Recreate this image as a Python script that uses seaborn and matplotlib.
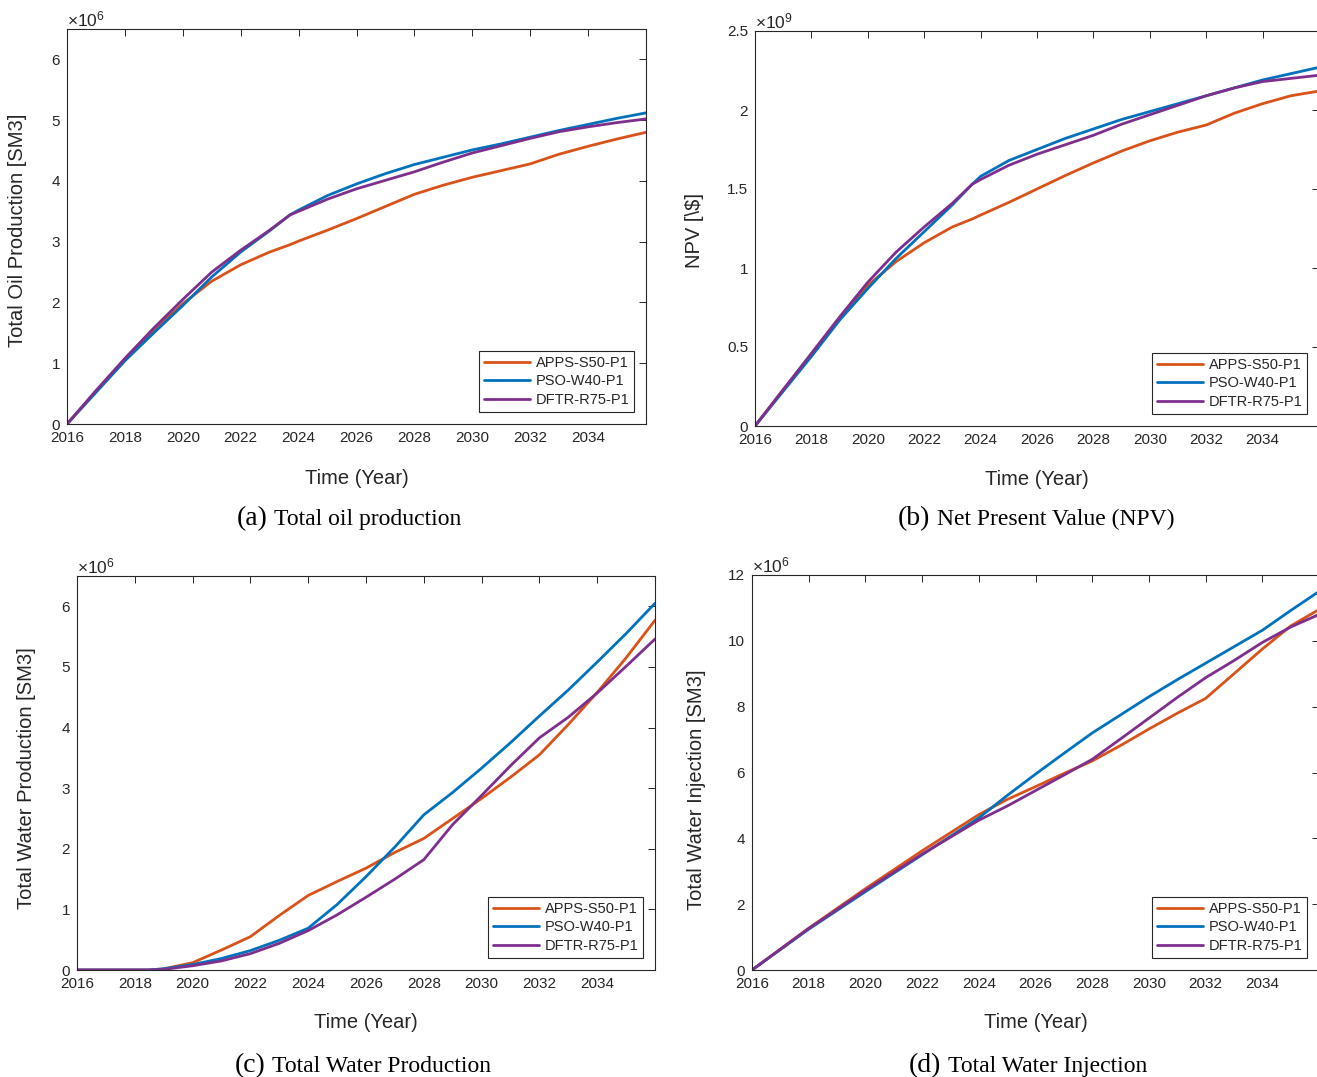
import numpy as np
import pandas as pd
import matplotlib
matplotlib.use("Agg")
import matplotlib.pyplot as plt
import seaborn as sns

# ---------------- data (values in displayed units, see multiplier) ----------------
methods = ["APPS-S50-P1", "PSO-W40-P1", "DFTR-R75-P1"]
colors = ["#D95319", "#0072BD", "#7E2F8E"]

# (a) Total oil production [x1e6 SM3]
years_a = [2016, 2017, 2018, 2019, 2020, 2021, 2022, 2023, 2023.7, 2024, 2025, 2026,
           2027, 2028, 2029, 2030, 2031, 2032, 2033, 2034, 2035, 2036]
oil_apps = [0, 0.53, 1.05, 1.55, 1.98, 2.35, 2.62, 2.83, 2.95, 3.01, 3.19, 3.38,
            3.58, 3.78, 3.93, 4.06, 4.17, 4.28, 4.44, 4.57, 4.69, 4.80]
oil_pso = [0, 0.52, 1.04, 1.50, 1.95, 2.42, 2.83, 3.18, 3.44, 3.52, 3.76, 3.95,
           4.12, 4.27, 4.39, 4.51, 4.61, 4.72, 4.83, 4.93, 5.03, 5.12]
oil_dftr = [0, 0.55, 1.08, 1.58, 2.05, 2.50, 2.86, 3.19, 3.44, 3.50, 3.70, 3.87,
            4.01, 4.15, 4.31, 4.46, 4.58, 4.70, 4.81, 4.89, 4.96, 5.02]

# (b) NPV [x1e9 $]
years_b = years_a
npv_apps = [0, 0.23, 0.45, 0.68, 0.89, 1.04, 1.16, 1.26, 1.31, 1.335, 1.415, 1.50,
            1.585, 1.665, 1.74, 1.805, 1.86, 1.905, 1.98, 2.04, 2.09, 2.12]
npv_pso = [0, 0.22, 0.44, 0.67, 0.87, 1.06, 1.23, 1.40, 1.53, 1.58, 1.68, 1.75,
           1.82, 1.88, 1.94, 1.99, 2.04, 2.09, 2.14, 2.19, 2.23, 2.27]
npv_dftr = [0, 0.23, 0.46, 0.69, 0.91, 1.10, 1.26, 1.41, 1.53, 1.56, 1.65, 1.72,
            1.78, 1.84, 1.91, 1.97, 2.03, 2.09, 2.14, 2.18, 2.20, 2.22]

# (c) Total water production [x1e6 SM3]
years_c = [2016, 2017, 2018, 2018.5, 2019, 2020, 2021, 2022, 2023, 2024, 2025, 2026,
           2027, 2028, 2029, 2030, 2031, 2032, 2033, 2034, 2035, 2036]
wp_apps = [0, 0, 0, 0.0, 0.02, 0.12, 0.33, 0.55, 0.90, 1.23, 1.46, 1.68,
           1.94, 2.17, 2.50, 2.83, 3.18, 3.55, 4.05, 4.58, 5.15, 5.77]
wp_pso = [0, 0, 0, 0, 0.02, 0.09, 0.19, 0.32, 0.49, 0.69, 1.08, 1.54,
          2.03, 2.56, 2.93, 3.33, 3.75, 4.19, 4.62, 5.08, 5.55, 6.05]
wp_dftr = [0, 0, 0, 0, 0.01, 0.07, 0.15, 0.27, 0.44, 0.65, 0.91, 1.20,
           1.50, 1.82, 2.40, 2.88, 3.37, 3.83, 4.17, 4.57, 5.01, 5.46]

# (d) Total water injection [x1e6 SM3]
years_d = [2016, 2018, 2020, 2022, 2024, 2025, 2026, 2027, 2028, 2029, 2030,
           2031, 2032, 2033, 2034, 2035, 2036]
wi_apps = [0, 1.27, 2.47, 3.62, 4.72, 5.18, 5.57, 5.97, 6.35, 6.82, 7.32,
           7.80, 8.25, 9.00, 9.75, 10.45, 10.95]
wi_pso = [0, 1.24, 2.38, 3.50, 4.62, 5.30, 5.95, 6.58, 7.20, 7.75, 8.30,
          8.82, 9.32, 9.82, 10.32, 10.92, 11.50]
wi_dftr = [0, 1.26, 2.42, 3.52, 4.55, 4.98, 5.45, 5.92, 6.40, 7.02, 7.65,
           8.28, 8.88, 9.40, 9.95, 10.42, 10.80]

xticks = list(range(2016, 2035, 2))

# ---------------- style ----------------
sns.set_theme(style="white")
plt.rcParams["font.family"] = ["Liberation Sans", "DejaVu Sans"]
plt.rcParams["mathtext.fontset"] = "custom"
plt.rcParams["mathtext.rm"] = "Liberation Sans"
plt.rcParams["mathtext.it"] = "Liberation Sans:italic"
AX_COLOR = "#262626"

W, H = 1317, 1077
fig = plt.figure(figsize=(W / 100, H / 100), dpi=100)
fig.patch.set_facecolor("white")


def px_rect(left, right, top, bottom):
    return [left / W, 1 - bottom / H, (right - left) / W, (bottom - top) / H]


panels = [
    dict(rect=px_rect(67, 646, 29, 424), t=years_a, vals=[oil_apps, oil_pso, oil_dftr],
         ylim=(0, 6.5), yticks=[0, 1, 2, 3, 4, 5, 6], mult=r"$\times10^{6}$",
         ylabel="Total Oil Production [SM3]", ylab_xy=(18, 230), xlab_y=478,
         tag="(a)", cap="Total oil production", cap_xy=(349, 525)),
    dict(rect=px_rect(755, 1319, 31, 426), t=years_b, vals=[npv_apps, npv_pso, npv_dftr],
         ylim=(0, 2.5), yticks=[0, 0.5, 1, 1.5, 2, 2.5], mult=r"$\times10^{9}$",
         ylabel="NPV [\\$]", ylab_xy=(695, 231), xlab_y=480,
         tag="(b)", cap="Net Present Value (NPV)", cap_xy=(1036, 525)),
    dict(rect=px_rect(77, 655, 576, 970), t=years_c, vals=[wp_apps, wp_pso, wp_dftr],
         ylim=(0, 6.5), yticks=[0, 1, 2, 3, 4, 5, 6], mult=r"$\times10^{6}$",
         ylabel="Total Water Production [SM3]", ylab_xy=(27, 778), xlab_y=1023,
         tag="(c)", cap="Total Water Production", cap_xy=(363, 1072)),
    dict(rect=px_rect(752, 1319, 575, 970), t=years_d, vals=[wi_apps, wi_pso, wi_dftr],
         ylim=(0, 12), yticks=[0, 2, 4, 6, 8, 10, 12], mult=r"$\times10^{6}$",
         ylabel="Total Water Injection [SM3]", ylab_xy=(697, 790), xlab_y=1023,
         tag="(d)", cap="Total Water Injection", cap_xy=(1028, 1072)),
]

palette = dict(zip(methods, colors))
caption_texts = []

for p in panels:
    ax = fig.add_axes(p["rect"])
    rows = []
    for m, v in zip(methods, p["vals"]):
        for tt, vv in zip(p["t"], v):
            rows.append({"Year": tt, "Value": vv, "Method": m})
    df = pd.DataFrame(rows)
    sns.lineplot(data=df, x="Year", y="Value", hue="Method", hue_order=methods,
                 palette=palette, estimator=None, sort=False, linewidth=2.0,
                 legend=False, ax=ax)
    ax.set_xlim(2016, 2036)
    ax.set_ylim(*p["ylim"])
    ax.set_xticks(xticks)
    ax.set_xticklabels([str(x) for x in xticks])
    ax.set_yticks(p["yticks"])
    ax.set_yticklabels([f"{y:g}" for y in p["yticks"]])
    ax.set_xlabel("")
    ax.set_ylabel("")
    ax.tick_params(axis="both", direction="in", top=True, right=True, length=5,
                   width=0.7, colors=AX_COLOR, labelsize=11)
    ax.tick_params(axis="x", pad=5)
    ax.tick_params(axis="y", pad=5)
    for s in ax.spines.values():
        s.set_visible(True)
        s.set_color(AX_COLOR)
        s.set_linewidth(0.8)
    ax.set_facecolor("white")

    handles = ax.get_lines()[:3]
    leg = ax.legend(handles, methods, loc="lower right", fontsize=10.5, frameon=True,
                    fancybox=False, framealpha=1, edgecolor=AX_COLOR,
                    handlelength=3.1, handletextpad=0.4, labelspacing=0.33,
                    borderpad=0.35, borderaxespad=0.8)
    leg.get_frame().set_linewidth(0.8)

    ax.text(0.0, 1.0, p["mult"], transform=ax.transAxes, ha="left", va="bottom",
            fontsize=12.5, color=AX_COLOR)

    fig.text(p["ylab_xy"][0] / W, 1 - p["ylab_xy"][1] / H, p["ylabel"], rotation=90,
             ha="center", va="center", fontsize=14.5, color=AX_COLOR, parse_math=False)
    cx = (p["rect"][0] + (min(p["rect"][0] + p["rect"][2], 1319 / W) - p["rect"][0]) / 2)
    fig.text(cx, 1 - p["xlab_y"] / H, "Time (Year)", ha="center", va="center",
             fontsize=14.5, color=AX_COLOR)

    t1 = fig.text(0, 0, p["tag"], fontsize=20, family="Liberation Serif",
                  ha="left", va="baseline", color="black")
    t2 = fig.text(0, 0, p["cap"], fontsize=17, family="Liberation Serif",
                  ha="left", va="baseline", color="black")
    caption_texts.append((t1, t2, p["cap_xy"]))

renderer = fig.canvas.get_renderer()
gap = 7
for t1, t2, (cx, by) in caption_texts:
    w1 = t1.get_window_extent(renderer).width
    w2 = t2.get_window_extent(renderer).width
    x0 = cx - (w1 + gap + w2) / 2
    t1.set_position((x0 / W, 1 - by / H))
    t2.set_position(((x0 + w1 + gap) / W, 1 - by / H))

fig.savefig("out.png", dpi=100, facecolor="white")
